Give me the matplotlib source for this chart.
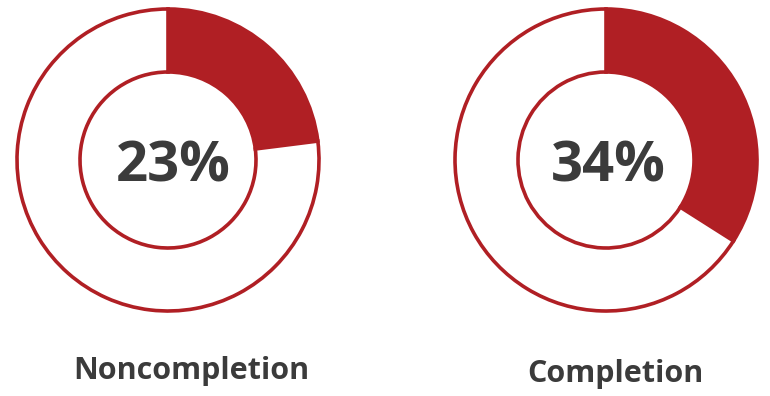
import matplotlib
matplotlib.use("Agg")
import matplotlib.pyplot as plt

labels = ["Noncompletion", "Completion"]
percents = [23, 34]

red = "#B01F24"
dark = "#3B3B3B"

fig = plt.figure(figsize=(7.7, 3.96), dpi=100)
ax = fig.add_axes([0, 0, 1, 1])

centers = [(168, 160), (606, 160)]
pct_pos = [(173, 182), (608, 182)]
label_pos = [(191, 379), (615, 382)]
outer = 151
inner = 88

for (cx, cy), pct, name, (px, py), (lx, ly) in zip(centers, percents, labels, pct_pos, label_pos):
    # y axis is flipped, so counterclockwise here looks clockwise
    ax.pie([pct, 100 - pct], colors=[red, "white"], startangle=-90,
           counterclock=True, center=(cx, cy), radius=outer,
           wedgeprops=dict(width=outer - inner, edgecolor=red, linewidth=2.6),
           frame=True)
    ax.text(px, py, f"{pct}%", ha="center", va="baseline", fontsize=40.5,
            fontweight="bold", color=dark, family="Open Sans")
    ax.text(lx, ly, name, ha="center", va="baseline", fontsize=22,
            fontweight="bold", color=dark, family="Open Sans")

ax.set_xlim(0, 770)
ax.set_ylim(396, 0)
ax.set_aspect("equal")
ax.axis("off")
fig.savefig("out.png", dpi=100)
